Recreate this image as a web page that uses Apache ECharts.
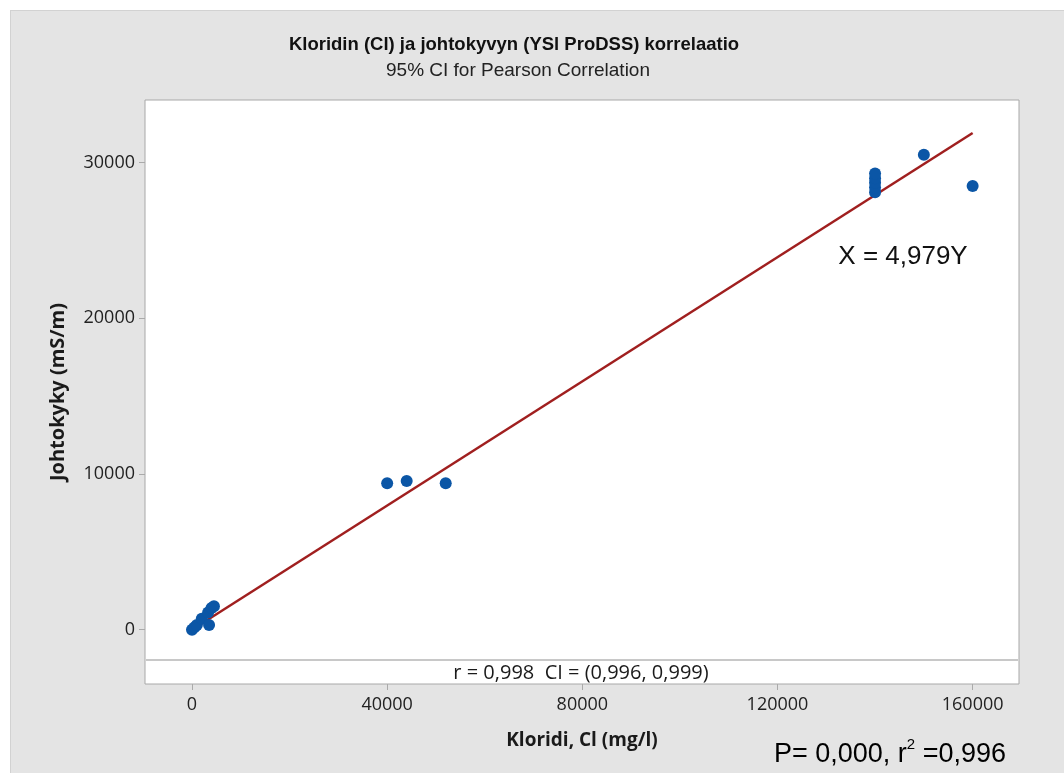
<!DOCTYPE html>
<html>
<head>
<meta charset="utf-8">
<script src="https://cdn.jsdelivr.net/npm/echarts@6/dist/echarts.min.js"></script>
<style>
    html, body { margin: 0; padding: 0; background: #fff; }
    #bg { position: absolute; left: 10px; top: 10px; width: 1054px; height: 763px;
          background: #e4e4e4; border-top: 1px solid #d2d2d2; border-left: 1px solid #d2d2d2; box-sizing: border-box; }
    #main { position: absolute; left: 0; top: 0; width: 1064px; height: 773px; }
</style>
</head>
<body>
<div id="bg"></div>
<div id="main"></div>
<script>
// mittaukset: kloridi (mg/l) ja johtokyky (mS/m)
var chlorideX = [0, 500, 1000, 2000, 3300, 3500, 4000, 4500, 40000, 44000, 52000, 140000, 140000, 140000, 140000, 140000, 150000, 160000];
var conductY = [0, 150, 300, 700, 1100, 300, 1400, 1500, 9400, 9550, 9400, 28100, 28400, 28700, 29000, 29300, 30500, 28500];

// sovitettu suora
var fitX = [0, 160000];
var fitY = [0, 31900];

// akselien merkit
var xTicks = [0, 40000, 80000, 120000, 160000];
var yTicks = [0, 10000, 20000, 30000];

var points = chlorideX.map(function (x, i) { return [x, conductY[i]]; });
var fitLine = fitX.map(function (x, i) { return [x, fitY[i]]; });

var myChart = echarts.init(document.getElementById('main'));

var option = {
    backgroundColor: 'transparent',
    animation: false,
    grid: {
        left: 145,
        right: 45,
        top: 100,
        bottom: 89,
        show: true,
        backgroundColor: '#fff',
        borderColor: '#a8a8a8',
        borderWidth: 1
    },
    xAxis: {
        type: 'value',
        min: -9633,
        max: 169500,
        name: 'Kloridi, Cl (mg/l)',
        nameLocation: 'middle',
        nameGap: 47,
        nameTextStyle: { fontFamily: 'Open Sans', fontWeight: 'bold', fontSize: 19, color: '#1a1a1a' },
        axisLine: { show: false, onZero: false },
        splitLine: { show: false },
        axisTick: { show: true, length: 6, customValues: xTicks, lineStyle: { color: '#aaa' } },
        axisLabel: {
            customValues: xTicks,
            margin: 12,
            fontFamily: 'Open Sans',
            fontSize: 18,
            color: '#222',
            formatter: function (v) { return String(v); }
        }
    },
    yAxis: {
        type: 'value',
        min: -3487,
        max: 34021,
        name: 'Johtokyky (mS/m)',
        nameLocation: 'middle',
        nameGap: 77,
        nameTextStyle: { fontFamily: 'Open Sans', fontWeight: 'bold', fontSize: 20, color: '#1a1a1a' },
        axisLine: { show: false, onZero: false },
        splitLine: { show: false },
        axisTick: { show: true, length: 6, customValues: yTicks, lineStyle: { color: '#aaa' } },
        axisLabel: {
            customValues: yTicks,
            margin: 10,
            fontFamily: 'Open Sans',
            fontSize: 18,
            color: '#222',
            formatter: function (v) { return String(v); }
        }
    },
    graphic: [
        {
            type: 'text', x: 514, y: 45,
            style: { text: 'Kloridin (Cl) ja johtokyvyn (YSl ProDSS) korrelaatio', fontFamily: 'Liberation Sans',
                     fontWeight: 'bold', fontSize: 18.5, fill: '#111', textAlign: 'center', textVerticalAlign: 'middle' }
        },
        {
            type: 'text', x: 518, y: 71,
            style: { text: '95% CI for Pearson Correlation', fontFamily: 'Liberation Sans',
                     fontSize: 19, fill: '#222', textAlign: 'center', textVerticalAlign: 'middle' }
        },
        {
            type: 'line', z: 10,
            shape: { x1: 146, y1: 660, x2: 1018, y2: 660 },
            style: { stroke: '#c8c8c8', lineWidth: 2 }
        },
        {
            type: 'text', x: 581, y: 673, z: 10,
            style: { text: 'r = 0,998  CI = (0,996, 0,999)', fontFamily: 'Open Sans',
                     fontSize: 20, fill: '#1a1a1a', textAlign: 'center', textVerticalAlign: 'middle' }
        },
        {
            type: 'text', x: 903, y: 257, z: 10,
            style: { text: 'X = 4,979Y', fontFamily: 'Liberation Sans',
                     fontSize: 26, fill: '#111', textAlign: 'center', textVerticalAlign: 'middle' }
        },
        {
            type: 'text', x: 890, y: 755, z: 10,
            style: {
                text: '{n|P= 0,000, r}{s|2}{n| =0,996}',
                textAlign: 'center', textVerticalAlign: 'middle',
                rich: {
                    n: { fontFamily: 'Liberation Sans', fontSize: 27, color: '#111' },
                    s: { fontFamily: 'Liberation Sans', fontSize: 15, color: '#111', verticalAlign: 'top', padding: [0, 0, 20, 0] }
                }
            }
        }
    ],
    series: [
        {
            name: 'fit',
            type: 'line',
            data: fitLine,
            symbol: 'none',
            z: 2,
            lineStyle: { color: '#a01f1f', width: 2.5 }
        },
        {
            name: 'Kloridi',
            type: 'scatter',
            data: points,
            symbolSize: 12,
            z: 3,
            itemStyle: { color: '#0b56a6', opacity: 1 }
        }
    ]
};

myChart.setOption(option);
</script>
</body>
</html>
